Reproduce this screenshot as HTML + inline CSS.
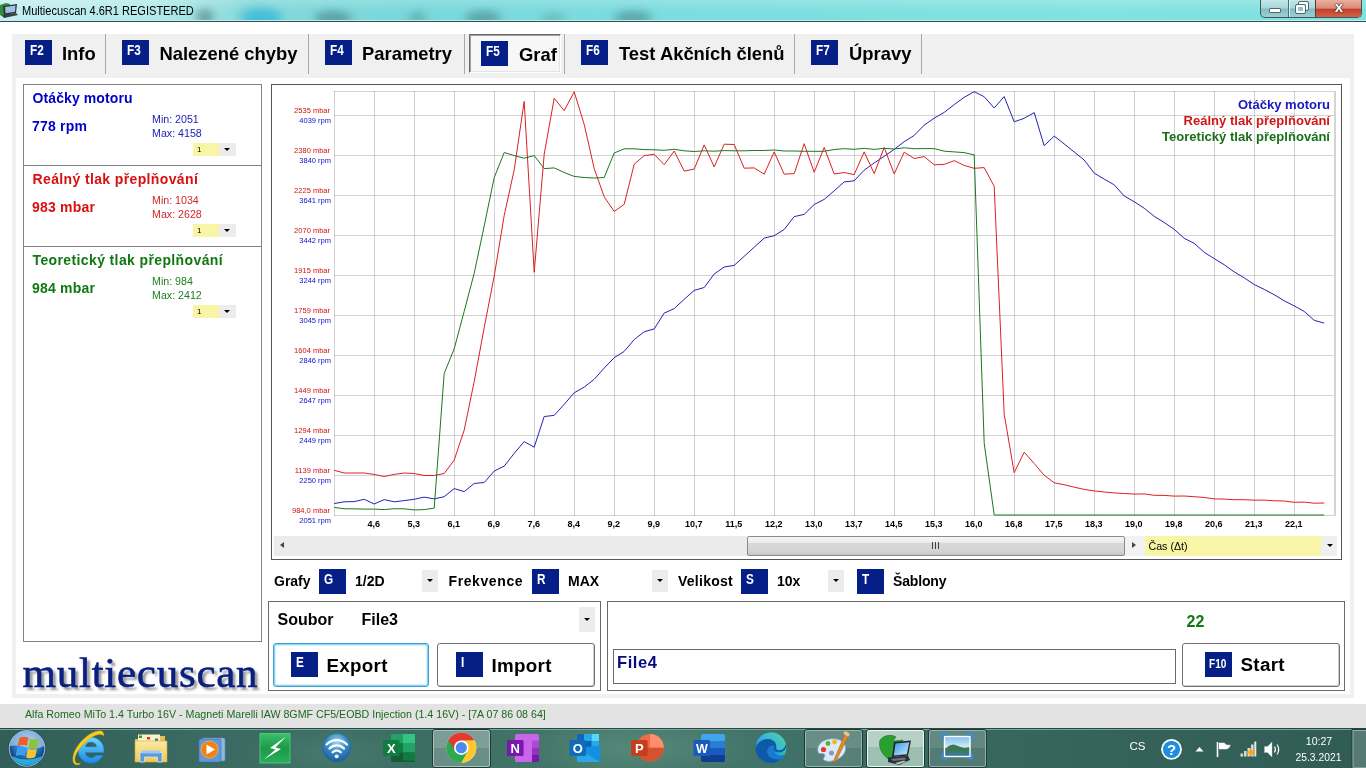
<!DOCTYPE html>
<html lang="cs"><head><meta charset="utf-8"><title>Multiecuscan 4.6R1 REGISTERED</title>
<style>
*{box-sizing:border-box;margin:0;padding:0}
html,body{width:1366px;height:768px;overflow:hidden;background:#fff;font-family:"Liberation Sans",sans-serif;color:#000}
.abs{position:absolute}
#titlebar{left:0;top:0;width:1366px;height:20px;background:linear-gradient(180deg,rgba(255,255,255,.18) 0,rgba(255,255,255,0) 60%),linear-gradient(90deg,#c6eff0 0px,#b4eaea 150px,#9fe2e2 200px,#84d8da 250px,#78d8da 420px,#7cdcde 640px,#80e0e0 900px,#82e2e2 1100px,#80e0e0 1366px);overflow:hidden}
#titlebar .blob{position:absolute;border-radius:50%;filter:blur(6px)}
#titleline{left:0;top:21px;width:1366px;height:1px;background:#2f4f52}
#titleline2{left:0;top:20px;width:1366px;height:1px;background:#c4eeee}
#title{left:22px;top:4px;font-size:12px;line-height:14px;white-space:nowrap;color:#000;transform:scaleX(0.92);transform-origin:0 0}
#outer{left:12px;top:34px;width:1342px;height:664px;background:#f0f0f0}
#inner{left:16px;top:78px;width:1334px;height:616px;background:#fff}
.tabsep{top:34px;width:1px;height:40px;background:#a8a8a8}
.key{width:27px;height:25px;background:#061f86;color:#fff;font-weight:bold;font-size:14px;line-height:14px;padding:3px 0 0 5px;white-space:nowrap;overflow:hidden}
.key span{display:inline-block;transform:scaleX(.84);transform-origin:0 50%}
.key.sm{font-size:12px;padding:4.5px 0 0 4px}
.tabtxt{top:43px;font-weight:bold;font-size:18.4px;line-height:22px;white-space:nowrap}
.panel{border:1px solid #828282;background:#fff}
.ptitle{font-weight:bold;font-size:14px;line-height:16px;white-space:nowrap}
.pval{font-weight:bold;font-size:14px;line-height:16px;white-space:nowrap;letter-spacing:.2px}
.pmm{font-size:10.67px;line-height:14px;white-space:nowrap}
.dd{height:13px;background:#f9f5a6;font-size:8px;line-height:13px;padding-left:4px}
.ddb{height:13px;width:17px;background:#ececec}
.arr{width:0;height:0;border-left:3px solid transparent;border-right:3px solid transparent;border-top:3.5px solid #000}
.lbl{font-weight:bold;font-size:14px;line-height:16px;white-space:nowrap}
.lbl16{font-weight:bold;font-size:16px;line-height:18px;white-space:nowrap}
.btn{border:1px solid #707070;border-radius:3px;background:#fff;box-shadow:inset -1px -1px 0 #d0d0d0, inset 1px 1px 0 #fff}
.btntxt{font-weight:bold;font-size:18.8px;line-height:22px;white-space:nowrap;letter-spacing:.3px}
#status{left:0;top:704px;width:1366px;height:24px;background:#e3e3e3}
#statustxt{left:25px;top:708px;font-size:10.67px;line-height:13px;color:#1c6a1c;white-space:nowrap}
#taskbar{left:0;top:728px;width:1366px;height:40px;background:radial-gradient(ellipse 120px 30px at 640px 20px,rgba(120,170,150,.35),transparent),radial-gradient(ellipse 90px 30px at 330px 25px,rgba(110,160,145,.25),transparent),linear-gradient(90deg,#315e57 0,#3a6a61 200px,#3c6d63 420px,#457869 600px,#41736a 760px,#386860 950px,#346259 1150px,#305c55 1366px);overflow:hidden}
#taskbar .hl{position:absolute;left:0;top:0;width:1366px;height:1px;background:#254745}
#taskbar .hl2{position:absolute;left:0;top:1px;width:1366px;height:1px;background:#7fa39d}
.tbtn{position:absolute;top:2px;height:38px;border:1px solid #25443f;border-radius:3px;background:linear-gradient(180deg,rgba(255,255,255,.42),rgba(255,255,255,.22) 45%,rgba(255,255,255,.10) 50%,rgba(255,255,255,.18));box-shadow:inset 0 0 0 1px rgba(255,255,255,.45)}
.tray{color:#fff;font-size:12px;white-space:nowrap}
</style></head><body>
<!-- title bar -->
<div class="abs" id="titlebar">
 <div class="blob" style="left:196px;top:9px;width:18px;height:16px;background:#5e8e90;opacity:.75;filter:blur(4px)"></div>
 <div class="blob" style="left:240px;top:8px;width:42px;height:20px;background:#2cb4d8;opacity:.7;filter:blur(5px)"></div>
 <div class="blob" style="left:314px;top:11px;width:38px;height:14px;background:#4f8f98;opacity:.75;filter:blur(4px)"></div>
 <div class="blob" style="left:408px;top:12px;width:18px;height:12px;background:#5a98a0;opacity:.6;filter:blur(4px)"></div>
 <div class="blob" style="left:465px;top:11px;width:36px;height:14px;background:#4f8f98;opacity:.7;filter:blur(4px)"></div>
 <div class="blob" style="left:540px;top:14px;width:26px;height:10px;background:#5a9c9c;opacity:.5;filter:blur(4px)"></div>
 <div class="blob" style="left:614px;top:11px;width:38px;height:14px;background:#4f8f98;opacity:.7;filter:blur(4px)"></div>
</div>
<div class="abs" id="titleline"></div><div class="abs" id="titleline2"></div>
<svg class="abs" style="left:0;top:1px" width="20" height="19" viewBox="0 0 20 19"><path d="M0 4 L6 2 L10 3 L10 13 L5 17 L0 14Z" fill="#2f8f3a"/><path d="M3 5 L17 3 L16 12 L4 14Z" fill="#2a3440"/><path d="M5 6 L15.5 4.6 L15 10.8 L5.6 12.2Z" fill="#9fc4e0"/><path d="M2 14 L16 12 L18 14 L4 17Z" fill="#3a3f44"/></svg>
<div class="abs" id="title">Multiecuscan 4.6R1 REGISTERED</div>
<!-- window buttons -->
<div class="abs" style="left:1260px;top:0;width:102px;height:18px;border:1px solid #3c5a5c;border-top:none;border-radius:0 0 5px 5px;overflow:hidden;background:linear-gradient(180deg,#c4e6e8 0,#a8d8dc 48%,#84bcc2 52%,#9ccfd4 100%)">
 <div class="abs" style="left:27px;top:0;width:1px;height:18px;background:#4a6e70"></div>
 <div class="abs" style="left:28px;top:0;width:1px;height:18px;background:#d8f0f0"></div>
 <div class="abs" style="left:54px;top:0;width:47px;height:18px;background:linear-gradient(180deg,#e8b0a0 0,#d98a78 45%,#c4402c 52%,#d4664c 100%);border-left:1px solid #4a4040"></div>
 <div class="abs" style="left:8px;top:8px;width:12px;height:5px;background:#fff;border:1px solid #4f6a6c;border-radius:1px"></div>
 <div class="abs" style="left:38px;top:2px;width:9px;height:8px;border:2px solid #fff;outline:1px solid #4f6a6c;border-radius:1px"></div>
 <div class="abs" style="left:35px;top:5px;width:9px;height:8px;border:2px solid #fff;outline:1px solid #4f6a6c;background:#8fc4c8;border-radius:1px"></div>
 <div class="abs" style="left:70px;top:-3px;width:16px;height:18px;color:#fff;font-weight:bold;font-size:15px;line-height:20px;text-align:center;text-shadow:0 0 1px #422,0 0 1px #422,0 0 2px #422">x</div>
</div>

<div class="abs" id="outer"></div>
<div class="abs" id="inner"></div>

<!-- tabs -->
<div class="abs tabsep" style="left:105px"></div>
<div class="abs tabsep" style="left:308px"></div>
<div class="abs tabsep" style="left:464px"></div>
<div class="abs tabsep" style="left:564px"></div>
<div class="abs tabsep" style="left:794px"></div>
<div class="abs tabsep" style="left:921px"></div>
<div class="abs" style="left:469px;top:34px;width:92px;height:39px;background:#f7f7f7;border:1px solid #fff;border-left-color:#696969;border-top-color:#696969;box-shadow:inset 1px 1px 0 #a0a0a0, inset -1px -1px 0 #e3e3e3"></div>

<div class="abs key" style="left:25px;top:40px"><span>F2</span></div><div class="abs tabtxt" style="left:62px">Info</div>
<div class="abs key" style="left:122px;top:40px"><span>F3</span></div><div class="abs tabtxt" style="left:159.5px">Nalezené chyby</div>
<div class="abs key" style="left:325px;top:40px"><span>F4</span></div><div class="abs tabtxt" style="left:362px">Parametry</div>
<div class="abs key" style="left:481px;top:41px"><span>F5</span></div><div class="abs tabtxt" style="left:519px;top:44px">Graf</div>
<div class="abs key" style="left:581px;top:40px"><span>F6</span></div><div class="abs tabtxt" style="left:619px">Test Akčních členů</div>
<div class="abs key" style="left:811px;top:40px"><span>F7</span></div><div class="abs tabtxt" style="left:849px">Úpravy</div>

<!-- left panel -->
<div class="abs panel" style="left:23px;top:84px;width:239px;height:558px"></div>
<div class="abs" style="left:24px;top:165px;width:237px;height:1px;background:#828282"></div>
<div class="abs" style="left:24px;top:246px;width:237px;height:1px;background:#828282"></div>

<div class="abs ptitle" style="left:32.5px;top:90px;color:#0000c8;letter-spacing:.1px">Otáčky motoru</div>
<div class="abs pval" style="left:32px;top:118px;color:#0000c8">778 rpm</div>
<div class="abs pmm" style="left:152px;top:112px;color:#2020b8">Min: 2051<br>Max: 4158</div>
<div class="abs dd" style="left:193px;top:143px;width:26px">1</div><div class="abs ddb" style="left:219px;top:143px"></div><div class="abs arr" style="left:224px;top:148px"></div>

<div class="abs ptitle" style="left:32.5px;top:171px;color:#d81010;letter-spacing:.37px">Reálný tlak přeplňování</div>
<div class="abs pval" style="left:32px;top:199px;color:#d81010">983 mbar</div>
<div class="abs pmm" style="left:152px;top:193px;color:#d02828">Min: 1034<br>Max: 2628</div>
<div class="abs dd" style="left:193px;top:224px;width:26px">1</div><div class="abs ddb" style="left:219px;top:224px"></div><div class="abs arr" style="left:224px;top:229px"></div>

<div class="abs ptitle" style="left:32.5px;top:252px;color:#107810;letter-spacing:.38px">Teoretický tlak přeplňování</div>
<div class="abs pval" style="left:32px;top:280px;color:#107810">984 mbar</div>
<div class="abs pmm" style="left:152px;top:274px;color:#208020">Min: 984<br>Max: 2412</div>
<div class="abs dd" style="left:193px;top:305px;width:26px">1</div><div class="abs ddb" style="left:219px;top:305px"></div><div class="abs arr" style="left:224px;top:310px"></div>

<!-- logo -->
<div class="abs" id="logo" style="left:22.5px;top:644.5px;font-family:'Liberation Serif',serif;font-size:43px;line-height:56px;color:#0a2080;white-space:nowrap;letter-spacing:.75px;-webkit-text-stroke:.6px #0a2080;text-shadow:3px 3px 2.5px rgba(70,70,70,.6)">multiecuscan</div>

<!-- chart frame -->
<div class="abs" style="left:271px;top:84px;width:1071px;height:476px;border:1px solid #555;background:#fff"></div>
<!-- chart scrollbar -->
<div class="abs" style="left:274px;top:536px;width:871px;height:20px;background:#ebebeb"></div>
<div class="abs" style="left:1125px;top:536px;width:20px;height:20px;background:#f2f2f2"></div>
<div class="abs" style="left:1321px;top:536px;width:16px;height:20px;background:#efefef"></div>
<div class="abs" style="left:747px;top:536px;width:378px;height:20px;border:1px solid #8c8c8c;border-radius:2px;background:linear-gradient(180deg,#f6f6f6 0,#ececec 30%,#d8d8d8 36%,#d4d4d4 80%,#c4c4c4 100%)"></div>
<div class="abs" style="left:932px;top:542px;width:7px;height:7px;background:repeating-linear-gradient(90deg,#404040 0 1px,transparent 1px 3px)"></div>
<div class="abs" style="left:280px;top:542px;width:0;height:0;border-top:3px solid transparent;border-bottom:3px solid transparent;border-right:4px solid #444"></div>
<div class="abs" style="left:1132px;top:542px;width:0;height:0;border-top:3px solid transparent;border-bottom:3px solid transparent;border-left:4px solid #444"></div>
<div class="abs" style="left:1145px;top:536px;width:176px;height:20px;background:#f9f5a6;font-size:10.67px;line-height:20px;padding-left:3.5px">Čas (Δt)</div>
<div class="abs arr" style="left:1327px;top:544px"></div>
<svg id="chart" width="1366" height="768" viewBox="0 0 1366 768" style="position:absolute;left:0;top:0;pointer-events:none">
<style>.yl{font:8px "Liberation Sans",sans-serif;text-anchor:end}.xl{font:bold 9.5px "Liberation Sans",sans-serif;text-anchor:middle;fill:#000}.lg{font:bold 13.05px "Liberation Sans",sans-serif;text-anchor:end}</style>
<rect x="334" y="91" width="1" height="425" fill="rgba(0,0,0,0.175)"/><rect x="374" y="91" width="1" height="425" fill="rgba(0,0,0,0.175)"/><rect x="414" y="91" width="1" height="425" fill="rgba(0,0,0,0.175)"/><rect x="454" y="91" width="1" height="425" fill="rgba(0,0,0,0.175)"/><rect x="494" y="91" width="1" height="425" fill="rgba(0,0,0,0.175)"/><rect x="534" y="91" width="1" height="425" fill="rgba(0,0,0,0.175)"/><rect x="574" y="91" width="1" height="425" fill="rgba(0,0,0,0.175)"/><rect x="614" y="91" width="1" height="425" fill="rgba(0,0,0,0.175)"/><rect x="654" y="91" width="1" height="425" fill="rgba(0,0,0,0.175)"/><rect x="694" y="91" width="1" height="425" fill="rgba(0,0,0,0.175)"/><rect x="734" y="91" width="1" height="425" fill="rgba(0,0,0,0.175)"/><rect x="774" y="91" width="1" height="425" fill="rgba(0,0,0,0.175)"/><rect x="814" y="91" width="1" height="425" fill="rgba(0,0,0,0.175)"/><rect x="854" y="91" width="1" height="425" fill="rgba(0,0,0,0.175)"/><rect x="894" y="91" width="1" height="425" fill="rgba(0,0,0,0.175)"/><rect x="934" y="91" width="1" height="425" fill="rgba(0,0,0,0.175)"/><rect x="974" y="91" width="1" height="425" fill="rgba(0,0,0,0.175)"/><rect x="1014" y="91" width="1" height="425" fill="rgba(0,0,0,0.175)"/><rect x="1054" y="91" width="1" height="425" fill="rgba(0,0,0,0.175)"/><rect x="1094" y="91" width="1" height="425" fill="rgba(0,0,0,0.175)"/><rect x="1134" y="91" width="1" height="425" fill="rgba(0,0,0,0.175)"/><rect x="1174" y="91" width="1" height="425" fill="rgba(0,0,0,0.175)"/><rect x="1214" y="91" width="1" height="425" fill="rgba(0,0,0,0.175)"/><rect x="1254" y="91" width="1" height="425" fill="rgba(0,0,0,0.175)"/><rect x="1294" y="91" width="1" height="425" fill="rgba(0,0,0,0.175)"/><rect x="1334" y="91" width="1" height="425" fill="rgba(0,0,0,0.175)"/><rect x="334" y="115" width="1001" height="1" fill="rgba(0,0,0,0.175)"/><rect x="334" y="155" width="1001" height="1" fill="rgba(0,0,0,0.175)"/><rect x="334" y="195" width="1001" height="1" fill="rgba(0,0,0,0.175)"/><rect x="334" y="235" width="1001" height="1" fill="rgba(0,0,0,0.175)"/><rect x="334" y="275" width="1001" height="1" fill="rgba(0,0,0,0.175)"/><rect x="334" y="315" width="1001" height="1" fill="rgba(0,0,0,0.175)"/><rect x="334" y="355" width="1001" height="1" fill="rgba(0,0,0,0.175)"/><rect x="334" y="395" width="1001" height="1" fill="rgba(0,0,0,0.175)"/><rect x="334" y="435" width="1001" height="1" fill="rgba(0,0,0,0.175)"/><rect x="334" y="475" width="1001" height="1" fill="rgba(0,0,0,0.175)"/><rect x="334" y="515" width="1001" height="1" fill="rgba(0,0,0,0.175)"/><rect x="334" y="91" width="1001" height="1" fill="rgba(0,0,0,0.175)"/><rect x="1334" y="91" width="2" height="425" fill="#d4d4d4"/>
<text transform="translate(330,113) scale(0.94,1)" class="yl" fill="#d01010">2535 mbar</text><text transform="translate(331,123) scale(0.94,1)" class="yl" fill="#1010d0">4039 rpm</text><text transform="translate(330,153) scale(0.94,1)" class="yl" fill="#d01010">2380 mbar</text><text transform="translate(331,163) scale(0.94,1)" class="yl" fill="#1010d0">3840 rpm</text><text transform="translate(330,193) scale(0.94,1)" class="yl" fill="#d01010">2225 mbar</text><text transform="translate(331,203) scale(0.94,1)" class="yl" fill="#1010d0">3641 rpm</text><text transform="translate(330,233) scale(0.94,1)" class="yl" fill="#d01010">2070 mbar</text><text transform="translate(331,243) scale(0.94,1)" class="yl" fill="#1010d0">3442 rpm</text><text transform="translate(330,273) scale(0.94,1)" class="yl" fill="#d01010">1915 mbar</text><text transform="translate(331,283) scale(0.94,1)" class="yl" fill="#1010d0">3244 rpm</text><text transform="translate(330,313) scale(0.94,1)" class="yl" fill="#d01010">1759 mbar</text><text transform="translate(331,323) scale(0.94,1)" class="yl" fill="#1010d0">3045 rpm</text><text transform="translate(330,353) scale(0.94,1)" class="yl" fill="#d01010">1604 mbar</text><text transform="translate(331,363) scale(0.94,1)" class="yl" fill="#1010d0">2846 rpm</text><text transform="translate(330,393) scale(0.94,1)" class="yl" fill="#d01010">1449 mbar</text><text transform="translate(331,403) scale(0.94,1)" class="yl" fill="#1010d0">2647 rpm</text><text transform="translate(330,433) scale(0.94,1)" class="yl" fill="#d01010">1294 mbar</text><text transform="translate(331,443) scale(0.94,1)" class="yl" fill="#1010d0">2449 rpm</text><text transform="translate(330,473) scale(0.94,1)" class="yl" fill="#d01010">1139 mbar</text><text transform="translate(331,483) scale(0.94,1)" class="yl" fill="#1010d0">2250 rpm</text><text transform="translate(330,513) scale(0.94,1)" class="yl" fill="#d01010">984,0 mbar</text><text transform="translate(331,523) scale(0.94,1)" class="yl" fill="#1010d0">2051 rpm</text>
<text transform="translate(373.7,526.9) scale(.95,1.05)" class="xl">4,6</text><text transform="translate(413.7,526.9) scale(.95,1.05)" class="xl">5,3</text><text transform="translate(453.7,526.9) scale(.95,1.05)" class="xl">6,1</text><text transform="translate(493.7,526.9) scale(.95,1.05)" class="xl">6,9</text><text transform="translate(533.7,526.9) scale(.95,1.05)" class="xl">7,6</text><text transform="translate(573.7,526.9) scale(.95,1.05)" class="xl">8,4</text><text transform="translate(613.7,526.9) scale(.95,1.05)" class="xl">9,2</text><text transform="translate(653.7,526.9) scale(.95,1.05)" class="xl">9,9</text><text transform="translate(693.7,526.9) scale(.95,1.05)" class="xl">10,7</text><text transform="translate(733.7,526.9) scale(.95,1.05)" class="xl">11,5</text><text transform="translate(773.7,526.9) scale(.95,1.05)" class="xl">12,2</text><text transform="translate(813.7,526.9) scale(.95,1.05)" class="xl">13,0</text><text transform="translate(853.7,526.9) scale(.95,1.05)" class="xl">13,7</text><text transform="translate(893.7,526.9) scale(.95,1.05)" class="xl">14,5</text><text transform="translate(933.7,526.9) scale(.95,1.05)" class="xl">15,3</text><text transform="translate(973.7,526.9) scale(.95,1.05)" class="xl">16,0</text><text transform="translate(1013.7,526.9) scale(.95,1.05)" class="xl">16,8</text><text transform="translate(1053.7,526.9) scale(.95,1.05)" class="xl">17,5</text><text transform="translate(1093.7,526.9) scale(.95,1.05)" class="xl">18,3</text><text transform="translate(1133.7,526.9) scale(.95,1.05)" class="xl">19,0</text><text transform="translate(1173.7,526.9) scale(.95,1.05)" class="xl">19,8</text><text transform="translate(1213.7,526.9) scale(.95,1.05)" class="xl">20,6</text><text transform="translate(1253.7,526.9) scale(.95,1.05)" class="xl">21,3</text><text transform="translate(1293.7,526.9) scale(.95,1.05)" class="xl">22,1</text>
<polyline points="334.2,503.6 344.2,501.8 354.2,501.6 364.2,499.3 374.2,504.0 384.2,499.6 394.2,501.8 404.2,500.6 414.2,499.3 424.2,497.1 434.2,498.9 444.2,496.7 454.2,488.6 464.2,491.6 474.2,483.5 484.2,482.5 494.2,471.1 504.2,466.1 514.2,453.4 524.2,441.6 534.2,447.2 544.2,416.5 554.2,415.4 564.2,404.3 574.2,392.8 584.2,387.1 594.2,379.3 604.2,368.1 614.2,357.7 624.2,351.4 634.2,339.6 644.2,331.8 654.2,328.9 664.2,313.1 674.2,308.6 684.2,299.3 694.2,290.4 704.2,287.5 714.2,274.0 724.2,267.0 734.2,265.4 744.2,256.3 754.2,247.2 764.2,238.1 774.2,235.7 784.2,229.5 794.2,216.6 804.2,214.4 814.2,204.5 824.2,199.4 834.2,190.8 844.2,181.9 854.2,180.8 864.2,170.2 874.2,162.9 884.2,156.3 894.2,149.4 904.2,141.7 914.2,135.4 924.2,125.1 934.2,118.2 944.2,112.4 954.2,104.6 964.2,97.3 974.2,91.7 984.2,96.7 994.2,108.0 1004.2,96.6 1014.2,121.8 1024.2,118.3 1034.2,112.6 1044.2,145.7 1054.2,136.1 1064.2,143.9 1074.2,152.0 1084.2,160.0 1094.2,173.1 1104.2,179.1 1114.2,184.8 1124.2,196.0 1134.2,201.7 1144.2,208.2 1154.2,216.3 1164.2,222.5 1174.2,229.3 1184.2,238.3 1194.2,243.3 1204.2,252.3 1214.2,258.6 1224.2,264.7 1234.2,271.9 1244.2,277.8 1254.2,284.5 1264.2,289.4 1274.2,294.7 1284.2,300.8 1294.2,305.9 1304.2,311.4 1314.2,320.3 1324.2,323.1" fill="none" stroke="#2222b4" stroke-width="1"/>
<polyline points="334.2,470.3 344.2,473.0 354.2,473.0 364.2,473.0 374.2,474.4 384.2,476.5 394.2,474.4 404.2,473.0 414.2,473.5 424.2,475.5 434.2,475.5 444.2,473.5 454.2,460.1 464.2,430.1 474.2,381.6 484.2,327.7 494.2,276.1 504.2,215.5 514.2,169.9 524.2,101.4 534.2,272.3 544.2,154.3 554.2,98.3 564.2,110.6 574.2,91.8 584.2,124.4 594.2,168.6 604.2,196.8 614.2,211.4 624.2,204.4 634.2,164.2 644.2,155.6 654.2,154.3 664.2,164.7 674.2,151.0 684.2,171.1 694.2,169.1 704.2,144.9 714.2,166.9 724.2,144.2 734.2,144.5 744.2,168.2 754.2,167.9 764.2,174.2 774.2,151.8 784.2,174.2 794.2,173.6 804.2,143.7 814.2,172.3 824.2,147.4 834.2,174.0 844.2,172.5 854.2,174.6 864.2,151.9 874.2,173.6 884.2,147.5 894.2,173.9 904.2,152.2 914.2,158.5 924.2,156.6 934.2,164.8 944.2,164.4 954.2,160.7 964.2,165.4 974.2,168.3 984.2,167.6 994.2,186.3 1004.2,414.2 1014.2,472.7 1024.2,452.2 1034.2,463.5 1044.2,475.2 1054.2,482.8 1064.2,484.7 1074.2,487.2 1084.2,489.4 1094.2,490.9 1104.2,492.0 1114.2,492.9 1124.2,493.5 1134.2,494.1 1144.2,493.9 1154.2,495.3 1164.2,495.4 1174.2,496.1 1184.2,496.0 1194.2,496.7 1204.2,497.5 1214.2,498.9 1224.2,499.1 1234.2,499.7 1244.2,499.7 1254.2,500.2 1264.2,500.1 1274.2,500.8 1284.2,501.0 1294.2,502.3 1304.2,502.1 1314.2,503.2 1324.2,503.0" fill="none" stroke="#dc2020" stroke-width="1"/>
<polyline points="334.2,507.4 344.2,508.8 354.2,508.8 364.2,509.1 374.2,509.1 384.2,509.6 394.2,508.7 404.2,508.8 414.2,509.9 424.2,509.6 434.2,508.1 444.2,373.4 454.2,348.8 464.2,311.3 474.2,273.3 484.2,225.9 494.2,177.7 504.2,152.5 514.2,155.6 524.2,158.2 534.2,155.6 544.2,168.6 554.2,167.9 564.2,172.5 574.2,176.4 584.2,177.5 594.2,178.0 604.2,177.5 614.2,153.0 624.2,148.8 634.2,148.8 644.2,149.6 654.2,149.8 664.2,150.3 674.2,149.3 684.2,150.8 694.2,151.5 704.2,150.8 714.2,151.2 724.2,150.6 734.2,150.8 744.2,150.8 754.2,150.5 764.2,150.5 774.2,150.0 784.2,151.0 794.2,151.0 804.2,151.3 814.2,151.3 824.2,151.3 834.2,149.5 844.2,148.7 854.2,149.3 864.2,148.3 874.2,149.4 884.2,148.3 894.2,149.0 904.2,147.8 914.2,148.7 924.2,148.6 934.2,148.6 944.2,151.2 954.2,151.9 964.2,152.6 974.2,154.9 984.2,443.3 994.2,515.0 1004.2,515.0 1014.2,515.0 1024.2,515.0 1034.2,515.0 1044.2,515.0 1054.2,515.0 1064.2,515.0 1074.2,515.0 1084.2,515.0 1094.2,515.0 1104.2,515.0 1114.2,515.0 1124.2,515.0 1134.2,515.0 1144.2,515.0 1154.2,515.0 1164.2,515.0 1174.2,515.0 1184.2,515.0 1194.2,515.0 1204.2,515.0 1214.2,515.0 1224.2,515.0 1234.2,515.0 1244.2,515.0 1254.2,515.0 1264.2,515.0 1274.2,515.0 1284.2,515.0 1294.2,515.0 1304.2,515.0 1314.2,515.0 1324.2,515.0" fill="none" stroke="#1c781c" stroke-width="1"/>
<text x="1330" y="109" class="lg" fill="#1818c0">Otáčky motoru</text>
<text x="1330" y="124.7" class="lg" fill="#d01818">Reálný tlak přeplňování</text>
<text x="1330" y="140.7" class="lg" fill="#187018">Teoretický tlak přeplňování</text>
</svg>

<!-- controls row -->
<div class="abs lbl" style="left:274px;top:573px">Grafy</div>
<div class="abs key" style="left:319px;top:569px"><span>G</span></div>
<div class="abs lbl" style="left:355px;top:573px">1/2D</div>
<div class="abs ddb" style="left:422px;top:570px;width:16px;height:22px"></div><div class="abs arr" style="left:427px;top:579px"></div>
<div class="abs lbl" style="left:448.5px;top:573px;letter-spacing:.6px">Frekvence</div>
<div class="abs key" style="left:532px;top:569px"><span>R</span></div>
<div class="abs lbl" style="left:568px;top:573px">MAX</div>
<div class="abs ddb" style="left:652px;top:570px;width:16px;height:22px"></div><div class="abs arr" style="left:657px;top:579px"></div>
<div class="abs lbl" style="left:678px;top:573px;letter-spacing:.25px">Velikost</div>
<div class="abs key" style="left:741px;top:569px"><span>S</span></div>
<div class="abs lbl" style="left:777px;top:573px">10x</div>
<div class="abs ddb" style="left:828px;top:570px;width:16px;height:22px"></div><div class="abs arr" style="left:833px;top:579px"></div>
<div class="abs key" style="left:857px;top:569px"><span>T</span></div>
<div class="abs lbl" style="left:893px;top:573px;letter-spacing:-.15px">Šablony</div>

<!-- file panel -->
<div class="abs panel" style="left:268px;top:601px;width:333px;height:90px;border-color:#6a6a6a"></div>
<div class="abs lbl16" style="left:277.5px;top:611px">Soubor</div>
<div class="abs lbl16" style="left:361.5px;top:611px">File3</div>
<div class="abs ddb" style="left:579px;top:607px;width:16px;height:25px"></div><div class="abs arr" style="left:584px;top:618px"></div>
<div class="abs btn" style="left:273px;top:643px;width:156px;height:44px;border:1px solid #3c9fd0;box-shadow:inset 0 0 0 1px #8fd4f0, inset 0 0 0 2px #d4f0fb"></div>
<div class="abs key" style="left:291px;top:652px"><span>E</span></div><div class="abs btntxt" style="left:326.5px;top:654.5px">Export</div>
<div class="abs btn" style="left:437px;top:643px;width:158px;height:44px"></div>
<div class="abs key" style="left:456px;top:652px"><span>I</span></div><div class="abs btntxt" style="left:491.5px;top:654.5px">Import</div>

<!-- right panel -->
<div class="abs panel" style="left:607px;top:601px;width:738px;height:90px;border-color:#6a6a6a"></div>
<div class="abs" style="left:613px;top:649px;width:563px;height:35px;border:1px solid #6a6a6a;background:#fff"></div>
<div class="abs lbl16" style="left:617px;top:652.5px;color:#0a0a80;font-size:16.5px;letter-spacing:.6px">File4</div>
<div class="abs lbl16" style="left:1186.5px;top:613px;color:#107810">22</div>
<div class="abs btn" style="left:1182px;top:643px;width:158px;height:44px"></div>
<div class="abs key sm" style="left:1205px;top:652px"><span>F10</span></div><div class="abs btntxt" style="left:1240.5px;top:654px">Start</div>

<!-- status -->
<div class="abs" id="status"></div>
<div class="abs" id="statustxt">Alfa Romeo MiTo 1.4 Turbo 16V - Magneti Marelli IAW 8GMF CF5/EOBD Injection (1.4 16V) - [7A 07 86 08 64]</div>

<!-- taskbar -->
<div class="abs" id="taskbar"><div class="hl"></div><div class="hl2"></div>
<svg class="abs" style="left:0;top:0" width="1366" height="40" viewBox="0 0 1366 40">
<defs>
<radialGradient id="orb" cx="50%" cy="35%" r="65%"><stop offset="0" stop-color="#7fd0ff"/><stop offset=".45" stop-color="#2f86d0"/><stop offset=".8" stop-color="#164a86"/><stop offset="1" stop-color="#0e2f5c"/></radialGradient>
<linearGradient id="orbhl" x1="0" y1="0" x2="0" y2="1"><stop offset="0" stop-color="#fff" stop-opacity=".75"/><stop offset="1" stop-color="#fff" stop-opacity=".05"/></linearGradient>
<linearGradient id="ieg" x1="0" y1="0" x2="0" y2="1"><stop offset="0" stop-color="#6fd4ff"/><stop offset="1" stop-color="#1a8ae0"/></linearGradient>
<linearGradient id="fold" x1="0" y1="0" x2="0" y2="1"><stop offset="0" stop-color="#fbe9a8"/><stop offset="1" stop-color="#f0c850"/></linearGradient>
<linearGradient id="grn" x1="0" y1="0" x2="0" y2="1"><stop offset="0" stop-color="#3cc06a"/><stop offset=".5" stop-color="#1c9a48"/><stop offset="1" stop-color="#2cae5a"/></linearGradient>
<radialGradient id="globe" cx="50%" cy="30%" r="70%"><stop offset="0" stop-color="#9fd4f4"/><stop offset=".5" stop-color="#3a8cc8"/><stop offset="1" stop-color="#1a5a98"/></radialGradient>
<linearGradient id="edgeg" x1="0" y1="1" x2="1" y2="0"><stop offset="0" stop-color="#0c59a4"/><stop offset=".45" stop-color="#1e9de0"/><stop offset=".8" stop-color="#4cd47e"/><stop offset="1" stop-color="#6ae07a"/></linearGradient>
<linearGradient id="sky" x1="0" y1="0" x2="0" y2="1"><stop offset="0" stop-color="#7cc0f0"/><stop offset=".55" stop-color="#d8ecf8"/><stop offset=".6" stop-color="#3a7a58"/><stop offset="1" stop-color="#3a78a8"/></linearGradient>
<linearGradient id="scr" x1="0" y1="0" x2="1" y2="1"><stop offset="0" stop-color="#3a9ae8"/><stop offset="1" stop-color="#c8e8ff"/></linearGradient>
</defs>
<!-- start orb -->
<circle cx="27" cy="20.4" r="18.9" fill="#123a5c" opacity=".6"/>
<circle cx="27" cy="20.4" r="17.8" fill="url(#orb)" stroke="#a8d4f0" stroke-width=".9"/>
<path d="M9.6 18 A17.6 17.6 0 0 1 44.4 18 Q36 22.5 27 19.5 Q18 16.5 9.6 18Z" fill="#c8d8e8" opacity=".62"/>
<path d="M11.5 28 A17.6 17.6 0 0 0 42.5 28 Q27 35 11.5 28Z" fill="#30c8f8" opacity=".75"/>
<path d="M19.3 10 Q24 7.6 28.6 9.8 L27 18 Q22.6 16 17.6 18.2Z" fill="#f0602c"/>
<path d="M29.8 10.6 Q34 12.6 38.8 10.4 L37 19.4 Q32.6 21.6 28.2 19.4Z" fill="#8cc43c"/>
<path d="M17.3 19.8 Q22 17.6 26.6 19.6 L25 28 Q20.4 26 15.6 28.2Z" fill="#3c9cf0"/>
<path d="M27.9 20.8 Q32.2 22.8 36.8 20.8 L35.2 29 Q30.6 31.4 26.2 29.4Z" fill="#fcc42c"/>
<!-- IE -->
<g transform="translate(91,20.8) scale(1.13)">
<path d="M-11.5 1.5 A11.5 11.5 0 1 1 11.3 3.4 L-5 3.4 A5.4 5.4 0 0 0 4.6 5.8 L10.6 5.8 A11.5 11.5 0 0 1 -11.5 1.5Z M-5 -1.8 L5 -1.8 A5.1 5.1 0 0 0 -5 -1.8Z" fill="url(#ieg)" stroke="#1878c8" stroke-width=".5"/>
</g>
<g transform="translate(89,20) rotate(-45)"><path d="M-18.5 5 C-24 2 -22 -4 -12 -8 C-2 -11.5 12 -11 19.5 -5 C22 -3 21.5 0 19 2 C19 -1.5 14 -6.6 0 -6.6 C-12 -6.6 -19.4 -3 -19.6 1 C-19.6 2.6 -18.6 3.6 -16.5 4.2Z" fill="#f6cc20" stroke="#c89a10" stroke-width=".4"/></g>
<!-- Explorer -->
<g>
<path d="M135 11 L146 11 L148 8 L165 8 L165 34 L135 34Z" fill="#e8c058"/>
<rect x="138" y="6.5" width="22" height="8" fill="#fdf2c4"/>
<rect x="139" y="7.5" width="3" height="2.5" fill="#2a9a3a"/><rect x="147" y="9" width="3" height="2.5" fill="#d03a2a"/><rect x="155" y="10.5" width="3" height="2.5" fill="#2a7ad0"/>
<path d="M135 13 L167 13 L167 34 L135 34Z" fill="url(#fold)" stroke="#d8a838" stroke-width=".6"/>
<path d="M140 34 L140 24.5 L162 24.5 L162 34 L157.5 34 L157.5 29 L144.5 29 L144.5 34Z" fill="#5a9ad8" stroke="#cfe4f8" stroke-width=".8"/>
<rect x="142" y="22.5" width="18" height="3" fill="#9cc8f0"/>
</g>
<!-- Media player -->
<g>
<rect x="202" y="10" width="23" height="23" rx="1.5" fill="#8fb8e0" stroke="#5a8cc0" stroke-width=".6"/>
<rect x="199" y="11" width="22" height="23" rx="1.5" fill="#5f98d4" stroke="#3f74b4" stroke-width=".6"/>
<circle cx="209.5" cy="21.5" r="8.6" fill="#f08018" stroke="#f8b060" stroke-width=".8"/>
<path d="M206.5 16.5 L215 21.5 L206.5 26.5Z" fill="#fff"/>
</g>
<!-- green bolt -->
<rect x="260" y="5.5" width="30" height="29.5" fill="url(#grn)" stroke="#5ad084" stroke-width=".8"/>
<path d="M286 8.5 L270 20 L275.5 21.5 L264 31.5 L281 21 L275.5 19.5Z" fill="#fff"/>
<!-- wifi globe -->
<circle cx="336.7" cy="19.7" r="14.2" fill="url(#globe)" stroke="#2a6aa0" stroke-width=".6"/>
<path d="M326.5 16.5 A14 14 0 0 1 347 16.5" fill="none" stroke="#fff" stroke-width="2.2" stroke-linecap="round"/>
<path d="M329.5 20.5 A10 10 0 0 1 344 20.5" fill="none" stroke="#fff" stroke-width="2.2" stroke-linecap="round"/>
<path d="M332.6 24.3 A6 6 0 0 1 340.8 24.3" fill="none" stroke="#fff" stroke-width="2.2" stroke-linecap="round"/>
<circle cx="336.7" cy="28.3" r="1.9" fill="#fff"/>
<!-- Excel -->
<g>
<rect x="391" y="6" width="24" height="28" rx="1.5" fill="#21a366"/>
<rect x="403" y="6" width="12" height="9.3" fill="#33c481"/><rect x="391" y="15.3" width="12" height="9.3" fill="#107c41"/><rect x="403" y="15.3" width="12" height="9.3" fill="#21a366"/><rect x="391" y="24.6" width="24" height="9.4" rx="1.5" fill="#185c37"/><rect x="403" y="24.6" width="12" height="8" fill="#107c41"/>
<rect x="383" y="12" width="16.6" height="16" rx="1.5" fill="#107c41"/>
<text x="391.3" y="25" font-family="Liberation Sans,sans-serif" font-weight="bold" font-size="13" fill="#fff" text-anchor="middle">X</text>
</g>
<!-- chrome button -->
<rect x="432.5" y="1.5" width="58" height="38" rx="2.5" fill="#fff" fill-opacity=".22" stroke="#1e3a36" stroke-width="1"/>
<rect x="433.5" y="2.5" width="56" height="36" rx="2" fill="none" stroke="#fff" stroke-opacity=".45" stroke-width="1"/>
<rect x="434" y="3" width="55" height="17" fill="#fff" fill-opacity=".14"/>
<g transform="translate(461.3,19.7)">
<circle r="15" fill="#fff"/>
<path d="M0 0 L-12.99 -7.5 A15 15 0 0 1 12.99 -7.5Z" fill="#e33b2e"/>
<path d="M0 0 L12.99 -7.5 A15 15 0 0 1 0 15Z" fill="#fcc934"/>
<path d="M0 0 L0 15 A15 15 0 0 1 -12.99 -7.5Z" fill="#2da94f"/>
<path d="M0 -7.2 L12.99 -7.5 A15 15 0 0 0 -12.99 -7.5 L-6.2 3.6Z" fill="#e33b2e"/>
<path d="M6.3 3.6 L0 15 A15 15 0 0 0 12.99 -7.5 L0 -7.2Z" fill="#fcc934"/>
<path d="M-6.3 3.6 L-12.99 -7.5 A15 15 0 0 0 0 15 L6.3 3.6Z" fill="#2da94f"/>
<circle r="7.2" fill="#fff"/><circle r="5.6" fill="#4a8af4"/>
</g>
<!-- OneNote -->
<g>
<rect x="515" y="6" width="24" height="28" rx="1.5" fill="#ca64ea"/>
<rect x="532" y="12.5" width="7" height="7" fill="#ae4bd5"/><rect x="532" y="19.5" width="7" height="7" fill="#9332bf"/><rect x="532" y="26.5" width="7" height="7.5" fill="#7719aa"/>
<rect x="507" y="12" width="16.6" height="16" rx="1.5" fill="#7719aa"/>
<text x="515.3" y="25" font-family="Liberation Sans,sans-serif" font-weight="bold" font-size="13" fill="#fff" text-anchor="middle">N</text>
</g>
<!-- Outlook -->
<g>
<rect x="577" y="6" width="22" height="20" rx="1.5" fill="#1066b5"/>
<rect x="584" y="6" width="7.5" height="7" fill="#28a8ea"/><rect x="591.5" y="6" width="7.5" height="7" fill="#50d9ff"/><rect x="584" y="13" width="7.5" height="7" fill="#0a63b0"/><rect x="591.5" y="13" width="7.5" height="7" fill="#28a8ea"/>
<path d="M577 20 L600.5 17.5 L600.5 32.5 Q600.5 34 599 34 L578.5 34 Q577 34 577 32.5Z" fill="#1490df"/>
<path d="M577 20 L600 34 L578.5 34 Q577 34 577 32.5Z" fill="#28a8ea"/>
<rect x="569.4" y="12" width="16.6" height="16" rx="1.5" fill="#0f6cbd"/>
<text x="577.7" y="25" font-family="Liberation Sans,sans-serif" font-weight="bold" font-size="13" fill="#fff" text-anchor="middle">O</text>
</g>
<!-- PowerPoint -->
<g>
<circle cx="650" cy="19.7" r="13.8" fill="#ed6c47"/>
<path d="M650 5.9 A13.8 13.8 0 0 1 663.8 19.7 L650 19.7Z" fill="#ff8f6b"/>
<path d="M636.2 19.7 A13.8 13.8 0 0 0 663.8 19.7Z" fill="#d35230"/>
<rect x="631" y="12" width="16.6" height="16" rx="1.5" fill="#c43e1c"/>
<text x="639.3" y="25" font-family="Liberation Sans,sans-serif" font-weight="bold" font-size="13" fill="#fff" text-anchor="middle">P</text>
</g>
<!-- Word -->
<g>
<rect x="701" y="6" width="24" height="28" rx="1.5" fill="#41a5ee"/>
<rect x="701" y="13" width="24" height="7" fill="#2b7cd3"/><rect x="701" y="20" width="24" height="7" fill="#185abd"/><path d="M701 27 L725 27 L725 32.5 Q725 34 723.5 34 L702.5 34 Q701 34 701 32.5Z" fill="#103f91"/>
<rect x="693.5" y="12" width="16.6" height="16" rx="1.5" fill="#185abd"/>
<text x="701.8" y="25" font-family="Liberation Sans,sans-serif" font-weight="bold" font-size="12.5" fill="#fff" text-anchor="middle">W</text>
</g>
<!-- Edge -->
<g transform="translate(771,19.7)">
<circle r="15.3" fill="url(#edgeg)"/>
<path d="M-15.3 0 A15.3 15.3 0 0 1 14.6 -4.6 C15.6 1 12 4.4 7 4.2 C2 4 3.5 0.6 3.4 -1.6 C3 -7 -2.6 -9.6 -7.6 -8 C-12.6 -6.4 -15.3 -3 -15.3 0Z" fill="#3cc0e8" opacity=".55"/>
<path d="M14.9 -3.5 C16 1.6 12.4 5 7 4.6 C1.6 4.2 3 0.6 3.2 -1.6 C0.4 -3.2 -4 0 -3.6 4.6 C-3.2 9.6 2.6 13 10.6 11 C7 14.4 1 16.4 -5 14.4 C-12 12 -15.6 6 -15.3 0 C-13 -6 -7 -9.6 -2 -8.6 C2.4 -7.8 5.6 -5 5.2 -1 C5 1.4 5.6 2.6 8 2.6 C12 2.6 14 -0.6 14.9 -3.5Z" fill="#0f5aa8"/>
<path d="M3.2 -1.6 C0.4 -3.2 -4 0 -3.6 4.6 C-3.2 9.6 2.6 13 10.6 11 C12.4 9.6 13.6 8 14.2 6.2 C11 8.6 6 8.2 4 5 C2.4 2.6 3 0.2 3.2 -1.6Z" fill="#1a7ad0"/>
</g>
<!-- Paint button -->
<rect x="804.5" y="1.5" width="58" height="38" rx="2.5" fill="#fff" fill-opacity=".13" stroke="#1e3a36" stroke-width="1"/>
<rect x="805.5" y="2.5" width="56" height="36" rx="2" fill="none" stroke="#fff" stroke-opacity=".4" stroke-width="1"/>
<rect x="806" y="3" width="55" height="17" fill="#fff" fill-opacity=".1"/>
<g>
<path d="M818 24 C816 15 826 9.5 836 11 C846 12.5 848 21 843 27 C838 33 828 35 824 32 C822 30.5 826 28.5 824.5 26.5 C823 24.5 819 27 818 24Z" fill="#dceaf8" stroke="#7aa8d0" stroke-width=".8"/>
<circle cx="823.5" cy="21.5" r="2.6" fill="#e03a2a"/><circle cx="828" cy="15.5" r="2.4" fill="#5ab030"/><circle cx="834.5" cy="14" r="2.4" fill="#f0b820"/><circle cx="831.5" cy="25" r="2.5" fill="#7a9ac0"/>
<path d="M845 6 L848.5 8 L836 33 Q834 35.5 833.5 33Z" fill="#e08a2a" stroke="#a05a10" stroke-width=".5"/>
<path d="M843 4.5 Q846 1.5 850 6 L848.5 9 L844.6 7Z" fill="#e8c890" stroke="#a07840" stroke-width=".4"/>
</g>
<!-- Multiecuscan button (active) -->
<rect x="866.5" y="1.5" width="58" height="38" rx="2.5" fill="#d8f4e0" fill-opacity=".62" stroke="#1e3a36" stroke-width="1"/>
<rect x="867.5" y="2.5" width="56" height="36" rx="2" fill="none" stroke="#fff" stroke-opacity=".85" stroke-width="1"/>
<rect x="868" y="3" width="55" height="16" fill="#fff" fill-opacity=".28"/>
<g>
<path d="M880 12 C884 7 891 6 896 9 L893 13 L903 12 L899 22 L896 18 C893 22 893 28 897 35 C887 33 877 22 880 12Z" fill="#2aa030" stroke="#146a1c" stroke-width=".5"/>
<path d="M894 14 L911 12.5 L908 27.5 L892 29Z" fill="#20262c"/>
<path d="M895.5 15.5 L909.3 14.2 L906.8 26.3 L893.8 27.5Z" fill="url(#scr)"/>
<path d="M888 29.5 L908 27.5 L910 32 L899 37 L888 34Z" fill="#2c3036"/>
<path d="M891 31 L905 29.6 L906 31.4 L893 33Z" fill="#70767c"/>
<path d="M895 35 L904 32.6 L906 33.6 L898 36.6Z" fill="#b8bcc0"/>
</g>
<!-- Photo button -->
<rect x="928.5" y="1.5" width="58" height="38" rx="2.5" fill="#fff" fill-opacity=".13" stroke="#1e3a36" stroke-width="1"/>
<rect x="929.5" y="2.5" width="56" height="36" rx="2" fill="none" stroke="#fff" stroke-opacity=".4" stroke-width="1"/>
<rect x="930" y="3" width="55" height="17" fill="#fff" fill-opacity=".1"/>
<g>
<rect x="944.5" y="8.5" width="25.5" height="20" fill="url(#sky)" stroke="#fff" stroke-width="1.4"/>
<path d="M946 20 Q952 14 958 18 Q964 21 969 19 L969 23 L946 23Z" fill="#3a7a50"/>
<path d="M942.5 11.5 L942.5 6.5 L948 6.5 M966.5 6.5 L972 6.5 L972 11.5 M972 25.5 L972 30.5 L966.5 30.5 M948 30.5 L942.5 30.5 L942.5 25.5" fill="none" stroke="#3a8ae0" stroke-width="2.2"/>
</g>
<!-- tray -->
<text x="1129.5" y="21.5" font-family="Liberation Sans,sans-serif" font-size="11.5" fill="#fff">CS</text>
<circle cx="1171.5" cy="21.3" r="10.4" fill="#fff"/><circle cx="1171.5" cy="21.3" r="8.6" fill="#1e8ee0"/>
<text x="1171.5" y="26.6" font-family="Liberation Sans,sans-serif" font-weight="bold" font-size="15" fill="#fff" text-anchor="middle">?</text>
<path d="M1195.5 23.5 L1199.5 19 L1203.5 23.5Z" fill="#fff"/>
<path d="M1217.5 14 L1217.5 29" stroke="#fff" stroke-width="1.6"/><path d="M1218.5 14.5 L1224.5 14.5 Q1225.5 17.5 1231 16.5 Q1229.5 22 1224.5 21.5 L1218.5 21.5Z" fill="#fff" stroke="#1e3a36" stroke-width=".4"/>
<rect x="1240.5" y="25.5" width="2.6" height="3" fill="#d8d8d8"/><rect x="1244" y="23" width="2.6" height="5.5" fill="#d8d8d8"/><rect x="1247.5" y="20" width="2.6" height="8.5" fill="#d8d8d8"/><rect x="1251" y="16.5" width="2.6" height="12" fill="#d8d8d8"/><rect x="1254.3" y="13.5" width="2" height="15" fill="#e8e8e8"/>
<path d="M1250.6 19.5 L1252 22.6 L1255.4 22 L1253.2 24.6 L1255 27.6 L1251.8 26.6 L1249.6 29 L1249.4 25.6 L1246.2 24.4 L1249.2 23Z" fill="#f8a818"/>
<path d="M1264.5 18.5 L1267.5 18.5 L1272 14 L1272 29 L1267.5 24.5 L1264.5 24.5Z" fill="#fff" stroke="#c8c8c8" stroke-width=".4"/>
<path d="M1274.5 18.5 Q1276.5 21.5 1274.5 24.5 M1277 16.5 Q1280.4 21.5 1277 26.5" fill="none" stroke="#fff" stroke-width="1.1"/>
<text x="1319" y="17" font-family="Liberation Sans,sans-serif" font-size="11.5" fill="#fff" text-anchor="middle" textLength="26.5" lengthAdjust="spacingAndGlyphs">10:27</text>
<text x="1318.5" y="33.3" font-family="Liberation Sans,sans-serif" font-size="11.5" fill="#fff" text-anchor="middle" textLength="46" lengthAdjust="spacingAndGlyphs">25.3.2021</text>
<!-- show desktop -->
<rect x="1352" y="1.5" width="15" height="38.5" fill="#fff" fill-opacity=".18" stroke="#1e3a36" stroke-width="1"/>
<rect x="1353" y="2.5" width="14" height="37" fill="none" stroke="#fff" stroke-opacity=".4"/>
</svg>

</div>
</body></html>
